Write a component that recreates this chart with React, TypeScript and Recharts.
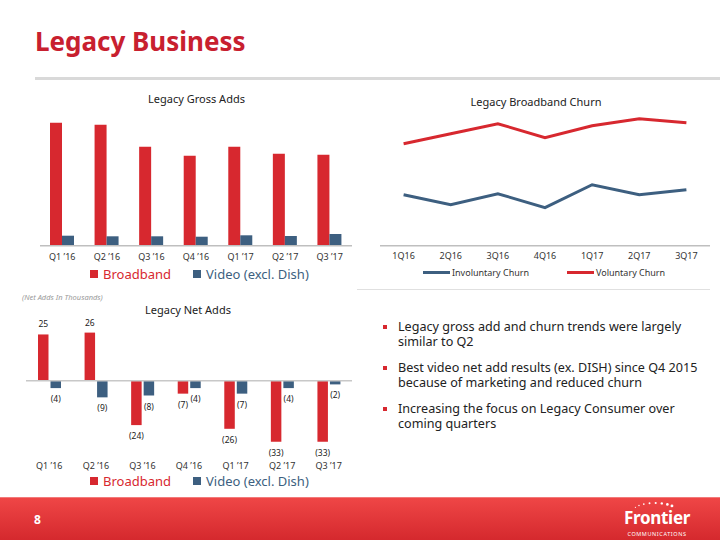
import React from "react"
import { BarChart, Bar, LineChart, Line, XAxis, YAxis, Legend, LabelList, ReferenceLine } from "recharts"

const quarters = ["Q1 \u201916", "Q2 \u201916", "Q3 \u201916", "Q4 \u201916", "Q1 \u201917", "Q2 \u201917", "Q3 \u201917"]
const grossBroadband = [123, 121, 99, 90, 99, 92, 91]
const grossVideo = [10, 9.4, 9.4, 9, 10.4, 9.7, 11.7]

const churnQuarters = ["1Q16", "2Q16", "3Q16", "4Q16", "1Q17", "2Q17", "3Q17"]
const involuntaryChurn = [51, 41, 52, 38, 61, 51, 56]
const voluntaryChurn = [102, 112, 122, 108, 120, 127, 123]

const netBroadband = [25, 26, -24, -7, -26, -33, -33]
const netVideo = [-4, -9, -8, -4, -7, -4, -2]

const bullets = [
  "Legacy gross add and churn trends were largely similar to Q2",
  "Best video net add results (ex. DISH) since Q4 2015 because of marketing and reduced churn",
  "Increasing the focus on Legacy Consumer over coming quarters",
]

const RED = "#d7282f"
const BLUE = "#3d5f80"
const FONT = "'Noto Sans', 'Liberation Sans', sans-serif"

const grossData = quarters.map((q, i) => ({ name: q, broadband: grossBroadband[i], video: grossVideo[i] }))
const churnData = churnQuarters.map((q, i) => ({ name: q, involuntary: involuntaryChurn[i], voluntary: voluntaryChurn[i] }))
const netData = quarters.map((q, i) => ({ name: q, broadband: netBroadband[i], video: netVideo[i] }))

const tickStyle = { fontSize: 9, fill: "#333", fontFamily: FONT }

function SquareLegend({ payload }: any) {
  return (
    <div style={{ display: "flex", height: 14, lineHeight: "14px", alignItems: "center", fontFamily: FONT, fontSize: 13 }}>
      {(payload || []).map((p: any, i: number) => (
        <div key={i} style={{ display: "flex", alignItems: "center", width: i === 0 ? 103 : 130, color: p.color }}>
          <span style={{ width: 8, height: 8, background: p.color, marginRight: 5, display: "inline-block" }} />
          <span>{p.value}</span>
        </div>
      ))}
    </div>
  )
}

function LineLegend({ payload }: any) {
  return (
    <div style={{ display: "flex", height: 14, alignItems: "center", fontFamily: FONT, fontSize: 9, color: "#333" }}>
      {(payload || []).map((p: any, i: number) => (
        <div key={i} style={{ display: "flex", alignItems: "center", width: 144 }}>
          <span style={{ width: 27, height: 3, background: p.color, marginRight: 2, display: "inline-block" }} />
          <span>{p.value}</span>
        </div>
      ))}
    </div>
  )
}

const renderNetLabel = (props: any) => {
  const vb = props.viewBox || props
  const x = Number(vb.x)
  const y = Number(vb.y)
  const w = Number(vb.width)
  const h = Number(vb.height)
  const value = Number(props.value)
  const top = Math.min(y, y + h)
  const bottom = Math.max(y, y + h)
  const ty = value >= 0 ? top - 7 : bottom + 14
  return (
    <text x={x + w / 2} y={ty} textAnchor="middle" fontSize={8.5} fill="#222" fontFamily={FONT}>
      {value < 0 ? `(${-value})` : value}
    </text>
  )
}

const abs = (left: number, top: number): React.CSSProperties => ({ position: "absolute", left, top })

export default function App() {
  return (
    <div style={{ position: "absolute", left: 0, top: 0, width: 720, height: 540, background: "#fff", overflow: "hidden", fontFamily: FONT }}>
      <div style={{ ...abs(35, 24), fontSize: 26, fontWeight: 700, color: "#c8202f", lineHeight: "34px" }}>Legacy Business</div>
      <div style={{ ...abs(35, 77), width: 685, height: 3, background: "#d9d9d9" }} />

      <div style={{ ...abs(20, 91), width: 345, textAlign: "center", fontSize: 11, color: "#222", transform: "translateX(4px)" }}>
        Legacy Gross Adds
      </div>
      <div style={{ ...abs(360, 94), width: 360, textAlign: "center", fontSize: 11, color: "#222", transform: "translateX(-4px)" }}>
        Legacy Broadband Churn
      </div>

      <div style={abs(20, 85)}>
        <BarChart width={345} height={205} data={grossData} margin={{ top: 30.7, right: 13, left: 20, bottom: 14.3 }} barGap={0} barSize={12}>
          <XAxis dataKey="name" interval={0} tickLine={false} axisLine={{ stroke: "#bfbfbf", strokeWidth: 1.5 }} tick={tickStyle} height={30} />
          <YAxis hide domain={[0, 130]} />
          <Legend verticalAlign="middle" align="center" content={<SquareLegend />} wrapperStyle={{ left: 70, top: 182, width: 260 }} />
          <Bar dataKey="broadband" name="Broadband" fill={RED} isAnimationActive={false} />
          <Bar dataKey="video" name="Video (excl. Dish)" fill={BLUE} isAnimationActive={false} />
        </BarChart>
      </div>

      <div style={abs(360, 85)}>
        <LineChart width={360} height={205} data={churnData} margin={{ top: 20.7, right: 10, left: 20, bottom: 14.3 }}>
          <XAxis dataKey="name" interval={0} tickLine={false} axisLine={{ stroke: "#bfbfbf", strokeWidth: 1.5 }} tick={tickStyle} height={30} tickMargin={1} padding={{ left: 23.6, right: 23.6 }} />
          <YAxis hide domain={[0, 140]} />
          <Legend verticalAlign="middle" align="center" content={<LineLegend />} wrapperStyle={{ left: 63, top: 180.7, width: 290 }} />
          <Line type="linear" dataKey="involuntary" name="Involuntary Churn" stroke={BLUE} strokeWidth={3} dot={false} isAnimationActive={false} />
          <Line type="linear" dataKey="voluntary" name="Voluntary Churn" stroke={RED} strokeWidth={3} dot={false} isAnimationActive={false} />
        </LineChart>
      </div>
      <div style={{ ...abs(357, 289), width: 353, height: 1, background: "#e0e0e0" }} />

      <div style={{ ...abs(22, 292), fontSize: 7.5, fontStyle: "italic", color: "#9a9a9a" }}>(Net Adds In Thousands)</div>
      <div style={{ ...abs(0, 302), width: 376, textAlign: "center", fontSize: 11, color: "#222" }}>Legacy Net Adds</div>

      <div style={abs(0, 305)}>
        <BarChart width={365} height={190} data={netData} margin={{ top: 20.2, right: 13, left: 26, bottom: 17.7 }} barGap={2} barSize={10.5}>
          <XAxis dataKey="name" interval={0} tickLine={false} axisLine={false} tick={tickStyle} height={30} tickMargin={9} />
          <YAxis hide domain={[-36, 30]} />
          <ReferenceLine y={0} stroke="#c8c8c8" strokeWidth={1.5} />
          <Legend verticalAlign="middle" align="center" content={<SquareLegend />} wrapperStyle={{ left: 90, top: 169, width: 260 }} />
          <Bar dataKey="broadband" name="Broadband" fill={RED} isAnimationActive={false}>
            <LabelList dataKey="broadband" content={renderNetLabel} />
          </Bar>
          <Bar dataKey="video" name="Video (excl. Dish)" fill={BLUE} isAnimationActive={false}>
            <LabelList dataKey="video" content={renderNetLabel} />
          </Bar>
        </BarChart>
      </div>

      <div style={{ ...abs(383, 319), width: 335, fontSize: 12.6, color: "#222", lineHeight: "15px" }}>
        {bullets.map((b, i) => (
          <div key={i} style={{ position: "relative", paddingLeft: 15, marginBottom: 11 }}>
            <span style={{ position: "absolute", left: 0, top: 6, width: 4, height: 4, background: RED }} />
            {b}
          </div>
        ))}
      </div>

      <div style={{ ...abs(0, 497), width: 720, height: 43, background: "linear-gradient(#ef4646, #d4282d)", borderTop: "1px solid #f27a7a" }} />
      <div style={{ ...abs(34, 511), fontSize: 12, fontWeight: 700, color: "#fff" }}>8</div>
      <svg style={abs(630, 499)} width={50} height={14}>
        {[0, 1, 2, 3, 4, 5, 6, 7].map((k) => {
          const a = Math.PI * (0.85 - k * 0.09)
          return <circle key={k} cx={25 + 22 * Math.cos(a)} cy={12 - 8 * Math.sin(a)} r={0.6 + k * 0.12} fill="#fff" />
        })}
      </svg>
      <div style={{ ...abs(618, 510), width: 78, textAlign: "center", fontSize: 17, fontWeight: 700, color: "#fff", lineHeight: "16px", letterSpacing: -0.3 }}>Frontier</div>
      <div style={{ ...abs(618, 531), width: 78, textAlign: "center", fontSize: 5.5, color: "#fff", letterSpacing: 0.6, lineHeight: "6px" }}>COMMUNICATIONS</div>
    </div>
  )
}
